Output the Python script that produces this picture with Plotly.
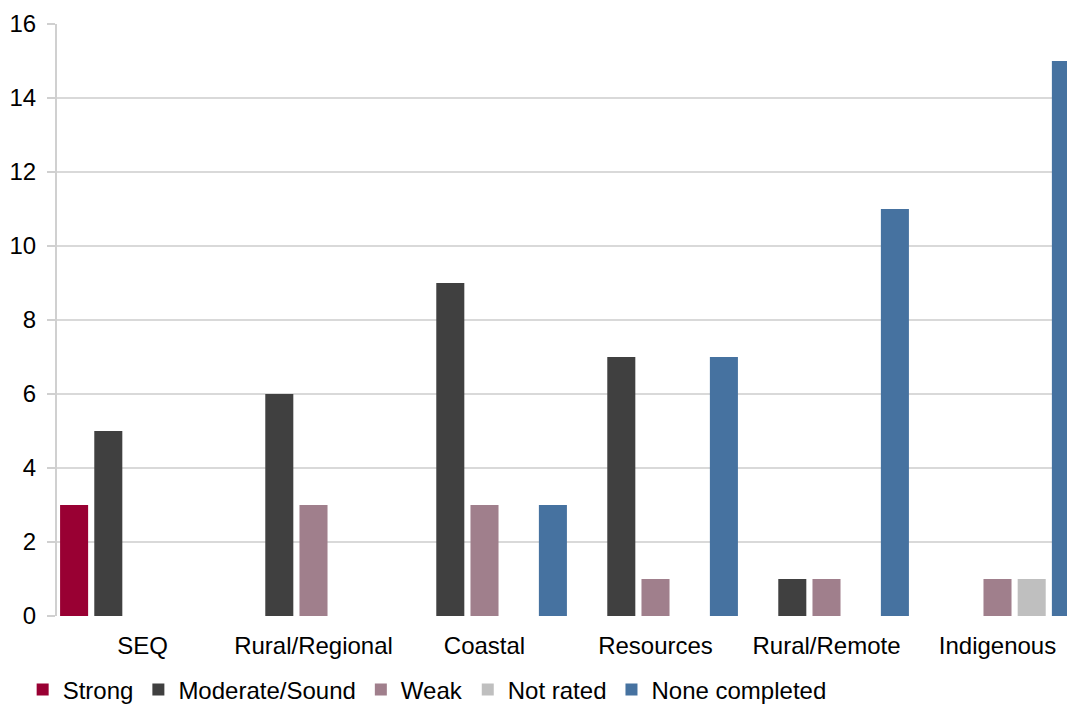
import plotly.graph_objects as go

categories = ["SEQ", "Rural/Regional", "Coastal", "Resources", "Rural/Remote", "Indigenous"]
strong = [3, 0, 0, 0, 0, 0]
moderate = [5, 6, 9, 7, 1, 0]
weak = [0, 3, 3, 1, 1, 1]
not_rated = [0, 0, 0, 0, 0, 1]
none_completed = [0, 0, 3, 7, 11, 15]

series = [
    ("Strong", strong, "#990033"),
    ("Moderate/Sound", moderate, "#404040"),
    ("Weak", weak, "#A07F8C"),
    ("Not rated", not_rated, "#BFBFBF"),
    ("None completed", none_completed, "#4672A0"),
]

xpos = list(range(len(categories)))

fig = go.Figure()
for name, vals, col in series:
    fig.add_trace(go.Bar(x=xpos, y=vals, name=name, marker=dict(color=col, line=dict(width=0))))

fig.update_layout(
    width=1067, height=704,
    barmode="group", bargap=0, bargroupgap=0.18,
    plot_bgcolor="white", paper_bgcolor="white",
    font=dict(family="Liberation Sans, Arial", size=24, color="black"),
    margin=dict(l=57, r=0, t=24, b=88, autoexpand=False),
    legend=dict(orientation="h", x=-0.034, y=-0.125, xanchor="left", yanchor="middle",
                font=dict(size=24), itemwidth=30, tracegroupgap=0),
    showlegend=True,
)
fig.update_xaxes(
    tickmode="array", tickvals=xpos, ticktext=categories,
    range=[-0.5, -0.5 + 1010 / 171], showgrid=False, zeroline=False,
    showline=False, ticks="outside", ticklen=8, tickcolor="rgba(0,0,0,0)",
    tickfont=dict(size=24), automargin=False,
)
fig.update_yaxes(
    range=[0, 16], dtick=2, showgrid=True, gridcolor="#D9D9D9", gridwidth=2,
    showline=True, linecolor="#D0D0D0", linewidth=2, ticks="outside",
    tickcolor="#D0D0D0", ticklen=8, tickwidth=2, zeroline=False,
    tickfont=dict(size=24), ticklabelstandoff=6, automargin=False,
)

# drop the page's default body margin so the chart fills the window
fig.write_html("out.html", config={"displayModeBar": False},
               post_script="document.body.style.margin='0';document.body.style.overflow='hidden';")
